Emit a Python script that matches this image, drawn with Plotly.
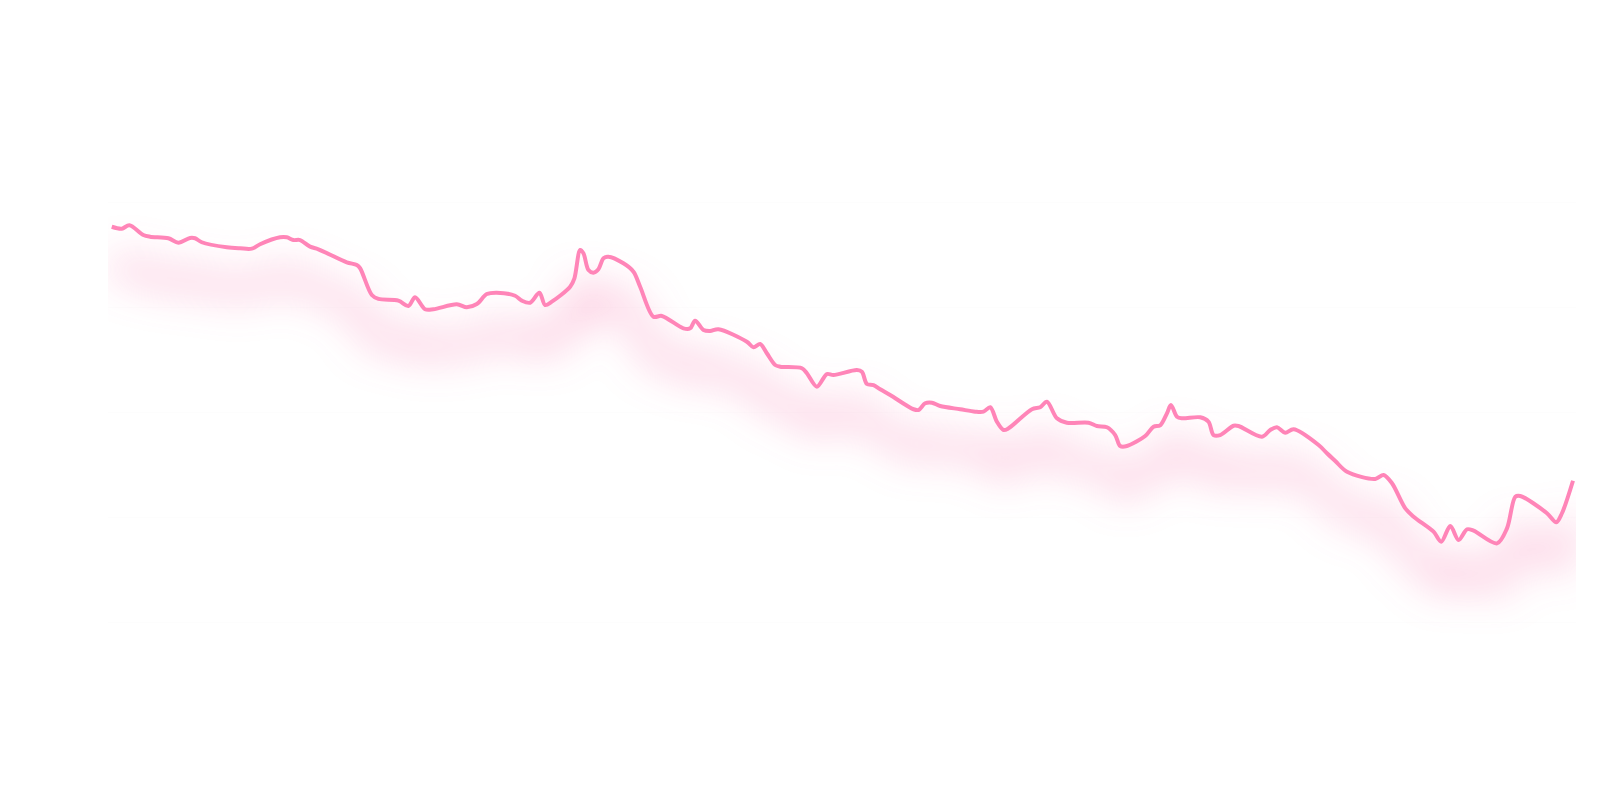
import plotly.graph_objects as go

# time index (trading days) and value
day = [0, 1.33, 2.35, 4.21, 5.11, 7.55, 8.88, 10.44, 11.11, 12.0, 15.33, 17.11, 18.67, 19.77,
       22.44, 23.33, 24.21, 25.11, 26.44, 27.55, 31.33, 32.67, 33.11, 34.67, 35.55, 38.21,
       39.55, 40.44, 41.77, 42.88, 46.0, 47.33, 48.67, 50.0, 51.33, 53.77, 54.67, 55.77, 57.01,
       57.77, 58.67, 61.11, 61.68, 62.44, 62.88, 63.55, 64.21, 64.88, 65.55, 66.21, 68.21,
       69.55, 70.44, 72.21, 73.33, 76.21, 77.11, 77.77, 78.88, 79.77, 80.88, 84.67, 85.55,
       86.44, 87.33, 88.44, 89.11, 92.0, 92.67, 94.0, 95.33, 96.21, 99.33, 100.0, 100.67,
       101.55, 102.44, 103.77, 106.88, 107.55, 108.44, 109.33, 110.44, 113.11, 115.11, 116.21,
       117.11, 118.0, 118.88, 119.55, 122.67, 123.77, 124.67, 126.0, 127.33, 130.21, 131.33,
       132.67, 133.77, 134.44, 135.33, 137.77, 138.88, 139.77, 140.67, 141.2, 142.0, 142.67,
       145.11, 146.21, 146.88, 147.77, 149.55, 150.21, 153.33, 154.44, 155.33, 156.44, 157.55,
       160.88, 162.0, 163.11, 164.67, 168.44, 169.55, 170.67, 172.44, 173.55, 176.21, 177.24,
       178.44, 179.55, 180.67, 181.55, 184.67, 186.0, 187.11, 187.77, 191.33, 192.57, 193.33,
       194.8]
value = [477.2, 475.3, 478.6, 469.3, 467.7, 466.2, 462.0, 466.5, 466.2, 462.4, 457.6, 456.6,
         456.3, 460.5, 467.1, 467.1, 464.5, 464.5, 458.2, 455.7, 443.3, 440.7, 437.6, 412.1,
         408.3, 406.7, 401.6, 409.9, 398.5, 398.5, 403.2, 400.4, 403.5, 413.0, 414.3, 411.4,
         406.7, 404.7, 414.3, 402.5, 405.7, 420.0, 428.0, 455.0, 451.9, 435.9, 433.4, 436.6,
         447.1, 448.6, 442.3, 434.3, 420.0, 391.4, 392.1, 380.3, 380.3, 387.6, 378.7, 377.7,
         379.4, 367.5, 362.2, 365.3, 356.5, 345.3, 343.7, 342.2, 337.4, 324.6, 336.7, 335.8,
         340.5, 338.9, 327.2, 326.2, 322.1, 316.7, 303.1, 302.4, 308.8, 309.4, 306.2, 303.1,
         300.8, 300.8, 305.0, 291.2, 283.3, 284.9, 303.1, 305.0, 310.3, 294.5, 290.3, 290.3,
         287.1, 285.9, 278.5, 268.0, 268.0, 277.6, 286.5, 287.8, 299.2, 307.2, 296.0, 294.5,
         295.4, 291.2, 278.5, 278.5, 287.4, 287.1, 276.9, 283.3, 285.9, 280.7, 284.0, 269.0,
         261.1, 253.7, 243.5, 236.6, 240.4, 232.5, 208.6, 200.6, 186.3, 176.8, 191.7, 178.4,
         188.6, 187.3, 175.2, 189.5, 219.7, 220.4, 203.9, 195.3, 203.9, 234.9]

LINE_COLOR = "#ff85b8"

fig = go.Figure()
# shadow / glow trace (blurred via SVG filter below)
fig.add_trace(go.Scatter(
    x=day, y=value, mode="lines",
    line=dict(color="rgba(248,120,175,0.42)", width=18, shape="spline", smoothing=0.9),
    hoverinfo="skip", showlegend=False,
))
# main line
fig.add_trace(go.Scatter(
    x=day, y=value, mode="lines",
    line=dict(color=LINE_COLOR, width=4, shape="spline", smoothing=0.9),
    showlegend=False,
))

fig.update_layout(
    width=1600, height=810, autosize=False,
    margin=dict(l=108, r=24, t=98, b=83),
    paper_bgcolor="white", plot_bgcolor="white",
    xaxis=dict(range=[-0.5, 195.2], showgrid=False, zeroline=False,
               showticklabels=False, showline=False, ticks=""),
    yaxis=dict(range=[0, 600], dtick=100, showgrid=True, gridcolor="#fdfdfd",
               gridwidth=1, zeroline=False, showticklabels=False, showline=False, ticks=""),
)

post_js = """
document.body.style.margin = '0';
document.body.style.overflow = 'hidden';
var gd = document.getElementById('{plot_id}');
function addGlow() {
  var svg = gd.querySelector('svg.main-svg');
  if (!svg) return;
  var ns = 'http://www.w3.org/2000/svg';
  var defs = svg.querySelector('defs');
  if (!defs) { defs = document.createElementNS(ns, 'defs'); svg.insertBefore(defs, svg.firstChild); }
  if (!document.getElementById('glowf')) {
    var f = document.createElementNS(ns, 'filter');
    f.setAttribute('id', 'glowf');
    f.setAttribute('filterUnits', 'userSpaceOnUse');
    f.setAttribute('x', '-300'); f.setAttribute('y', '-300');
    f.setAttribute('width', '2200'); f.setAttribute('height', '1400');
    var b = document.createElementNS(ns, 'feGaussianBlur');
    b.setAttribute('in', 'SourceGraphic'); b.setAttribute('stdDeviation', '20');
    b.setAttribute('result', 'blur');
    var o = document.createElementNS(ns, 'feOffset');
    o.setAttribute('in', 'blur'); o.setAttribute('dy', '40');
    f.appendChild(b); f.appendChild(o);
    defs.appendChild(f);
  }
  var traces = gd.querySelectorAll('.scatterlayer .trace');
  if (traces.length) {
    var p = traces[0].querySelector('path.js-line');
    if (p) p.setAttribute('filter', 'url(#glowf)');
  }
}
addGlow();
gd.on('plotly_afterplot', addGlow);
"""

fig.write_html("out.html", post_script=post_js, config={"displayModeBar": False})
